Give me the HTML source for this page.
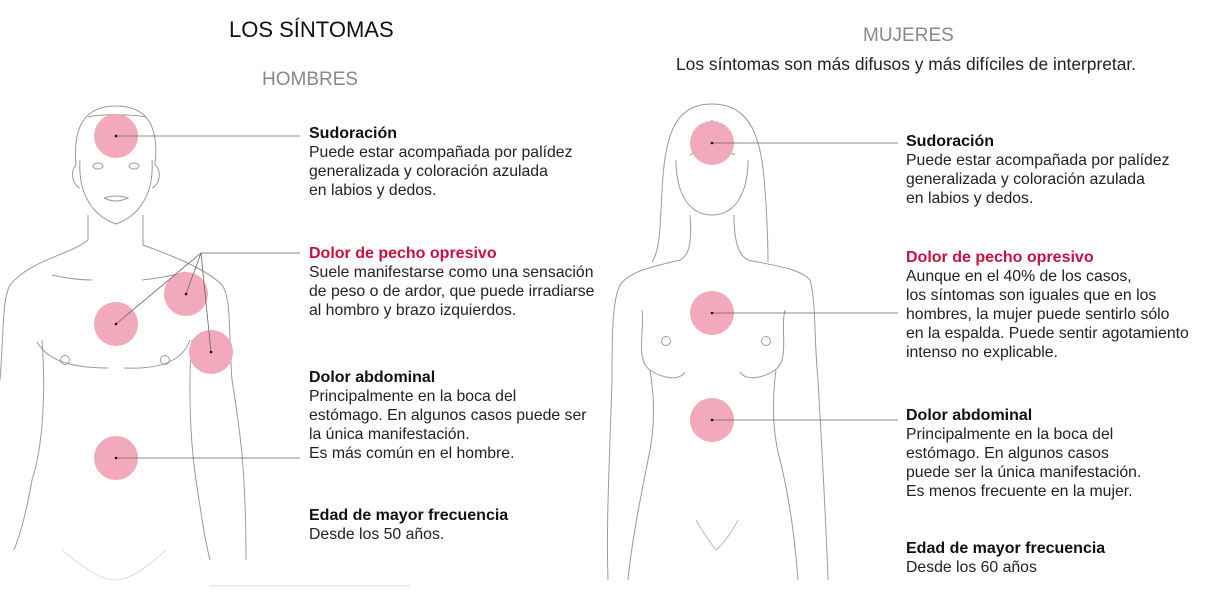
<!DOCTYPE html>
<html><head><meta charset="utf-8"><style>
body{margin:0;width:1219px;height:614px;background:#fff;position:relative;overflow:hidden;font-family:"Liberation Sans",sans-serif;color:#222}
.t{position:absolute;font-size:15.8px;line-height:19px;white-space:nowrap}
.t b{font-size:16px;color:#111}
.r{color:#c8103e!important}
.h{position:absolute;white-space:nowrap}
</style></head><body>
<svg width="1219" height="614" style="position:absolute;left:0;top:0" fill="none" stroke="#9a9a9a" stroke-width="1">
<!-- man -->
<path d="M76,165 C72,120 90,106 116,106 C142,106 160,120 155,165"/>
<path d="M80,160 C78,190 90,215 116,224 C142,215 154,190 152,160"/>
<path d="M88,117 C100,114 130,114 146,117"/>
<path d="M76,165 C70,170 72,185 80,188 M155,165 C162,170 160,185 152,188"/>
<path d="M88,215 L88,240 C70,255 30,260 10,285 C2,300 4,330 0,380"/>
<path d="M143,215 L143,245 C170,255 205,268 222,285 C232,300 228,330 232,380 C240,430 246,470 246,560"/>
<path d="M42,340 C45,380 45,440 32,480 C25,520 18,540 14,550"/>
<path d="M192,340 C188,380 190,440 196,480 C202,520 205,540 210,560"/>
<path d="M37,342 C45,355 60,368 108,368 M124,368 C170,370 185,355 190,340"/>
<path d="M52,275 C65,278 80,280 92,280 M142,280 C160,278 175,275 185,272"/>
<path d="M62,550 C80,565 100,580 115,580 C130,580 150,565 166,550" stroke="#ddd"/>
<circle cx="65" cy="360" r="4.5"/><circle cx="165" cy="360" r="4.5"/>
<ellipse cx="98" cy="166" rx="5" ry="3"/><ellipse cx="134" cy="166" rx="5" ry="3"/>
<path d="M104,198 Q116,194 128,198 Q116,204 104,198"/>
<!-- woman -->
<path d="M712,104 C672,104 665,140 662,190 C660,230 660,250 652,262"/>
<path d="M712,104 C752,104 762,140 765,190 C768,230 768,250 768,262"/>
<path d="M676,160 C676,195 690,215 712,215 C734,215 748,195 748,160"/>
<path d="M712,120 C705,140 700,150 690,155 M712,120 C718,140 724,150 735,155"/>
<path d="M690,215 C692,240 690,255 680,260 C660,265 630,270 620,285 C612,300 612,340 612,380 C610,450 606,520 608,580"/>
<path d="M734,215 C734,240 738,255 748,260 C770,265 800,268 810,280 C816,300 814,340 818,380 C822,450 826,520 828,580"/>
<path d="M642,310 C645,330 635,360 650,370 C665,380 680,380 685,372"/>
<path d="M785,310 C780,330 790,360 775,370 C760,380 745,380 740,372"/>
<path d="M650,370 C655,400 655,430 648,460 C640,500 632,540 628,580"/>
<path d="M776,370 C772,400 772,430 780,460 C790,500 795,540 798,580"/>
<path d="M696,520 C705,535 712,545 716,550 C722,545 730,535 738,520" stroke="#bbb"/>
<circle cx="666" cy="341" r="4.5"/><circle cx="766" cy="341" r="4.5"/>
</svg>
<svg width="1219" height="614" style="position:absolute;left:0;top:0">
<g fill="#f2a9bc">
<circle cx="116" cy="136" r="22"/><circle cx="116" cy="324" r="22"/><circle cx="186" cy="294" r="22"/><circle cx="211" cy="352" r="22"/><circle cx="116" cy="458" r="22"/>
<circle cx="712" cy="143" r="22"/><circle cx="712" cy="313" r="22"/><circle cx="712" cy="420" r="22"/>
</g>
<g stroke="#666" stroke-width="0.8">
<line x1="116" y1="136" x2="300" y2="136"/><line x1="201" y1="253" x2="300" y2="253"/>
<line x1="201" y1="253" x2="116" y2="324"/><line x1="201" y1="253" x2="186" y2="294"/><line x1="201" y1="253" x2="211" y2="352"/>
<line x1="116" y1="458" x2="300" y2="458"/>
<line x1="712" y1="143" x2="898" y2="143"/><line x1="712" y1="313" x2="898" y2="313"/><line x1="712" y1="420" x2="898" y2="420"/>
<line x1="210" y1="586" x2="410" y2="586" stroke="#ccc"/>
</g>
<g fill="#111"><circle cx="116" cy="136" r="1.3"/><circle cx="116" cy="324" r="1.3"/><circle cx="186" cy="294" r="1.3"/><circle cx="211" cy="352" r="1.3"/><circle cx="116" cy="458" r="1.3"/><circle cx="712" cy="143" r="1.3"/><circle cx="712" cy="313" r="1.3"/><circle cx="712" cy="420" r="1.3"/></g>
</svg>
<div class="h" style="left:229px;top:17px;font-size:22px;color:#111">LOS SÍNTOMAS</div>
<div class="h" style="left:262px;top:69px;font-size:19px;color:#888">HOMBRES</div>
<div class="h" style="left:863px;top:25px;font-size:19px;color:#888">MUJERES</div>
<div class="h" style="left:676px;top:54px;font-size:17.4px;color:#222">Los síntomas son más difusos y más difíciles de interpretar.</div>
<div class="t" style="left:309px;top:124px"><b>Sudoración</b><br>Puede estar acompañada por palídez<br>generalizada y coloración azulada<br>en labios y dedos.</div>
<div class="t" style="left:309px;top:244px"><b class="r">Dolor de pecho opresivo</b><br>Suele manifestarse como una sensación<br>de peso o de ardor, que puede irradiarse<br>al hombro y brazo izquierdos.</div>
<div class="t" style="left:309px;top:368px"><b>Dolor abdominal</b><br>Principalmente en la boca del<br>estómago. En algunos casos puede ser<br>la única manifestación.<br>Es más común en el hombre.</div>
<div class="t" style="left:309px;top:506px"><b>Edad de mayor frecuencia</b><br>Desde los 50 años.</div>
<div class="t" style="left:906px;top:132px"><b>Sudoración</b><br>Puede estar acompañada por palídez<br>generalizada y coloración azulada<br>en labios y dedos.</div>
<div class="t" style="left:906px;top:248px"><b class="r">Dolor de pecho opresivo</b><br>Aunque en el 40% de los casos,<br>los síntomas son iguales que en los<br>hombres, la mujer puede sentirlo sólo<br>en la espalda. Puede sentir agotamiento<br>intenso no explicable.</div>
<div class="t" style="left:906px;top:406px"><b>Dolor abdominal</b><br>Principalmente en la boca del<br>estómago. En algunos casos<br>puede ser la única manifestación.<br>Es menos frecuente en la mujer.</div>
<div class="t" style="left:906px;top:539px"><b>Edad de mayor frecuencia</b><br>Desde los 60 años</div>
</body></html>
